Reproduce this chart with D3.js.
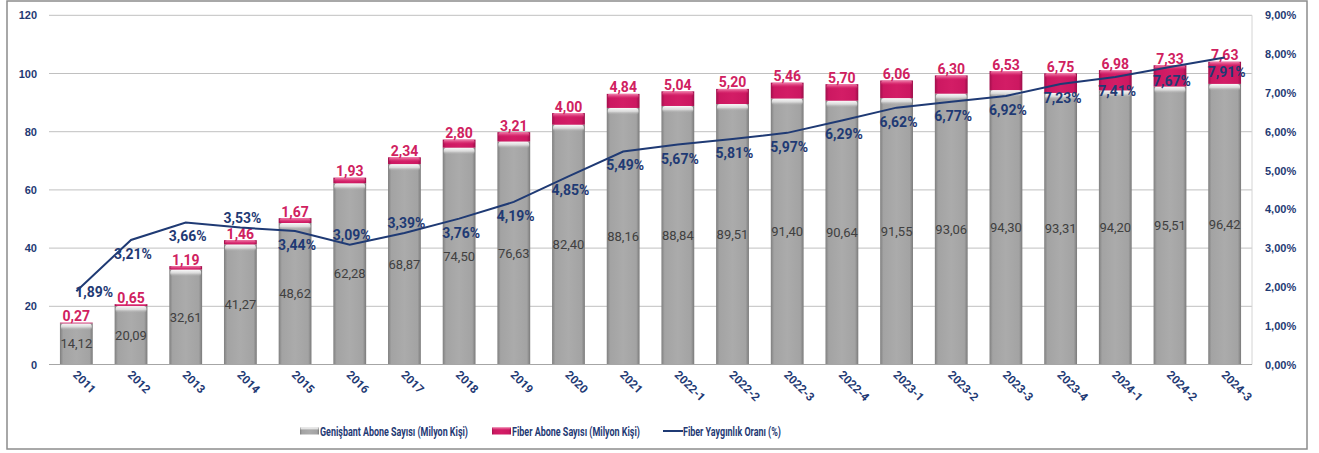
<!DOCTYPE html>
<html>
<head>
<meta charset="utf-8">
<script src="https://cdn.jsdelivr.net/npm/d3@7"></script>
<style>
  html, body { margin: 0; padding: 0; background: #fff; }
  svg { display: block; font-family: Roboto, "Liberation Sans", sans-serif; }
</style>
</head>
<body>
<svg id="chart" width="1319" height="453"></svg>
<script>
// chart data
var categories = ["2011", "2012", "2013", "2014", "2015", "2016", "2017", "2018", "2019", "2020", "2021",
  "2022-1", "2022-2", "2022-3", "2022-4", "2023-1", "2023-2", "2023-3", "2023-4", "2024-1", "2024-2", "2024-3"];
var broadband = [14.12, 20.09, 32.61, 41.27, 48.62, 62.28, 68.87, 74.50, 76.63, 82.40, 88.16,
  88.84, 89.51, 91.40, 90.64, 91.55, 93.06, 94.30, 93.31, 94.20, 95.51, 96.42];
var fiber = [0.27, 0.65, 1.19, 1.46, 1.67, 1.93, 2.34, 2.80, 3.21, 4.00, 4.84,
  5.04, 5.20, 5.46, 5.70, 6.06, 6.30, 6.53, 6.75, 6.98, 7.33, 7.63];
var fiberRate = [1.89, 3.21, 3.66, 3.53, 3.44, 3.09, 3.39, 3.76, 4.19, 4.85, 5.49,
  5.67, 5.81, 5.97, 6.29, 6.62, 6.77, 6.92, 7.23, 7.41, 7.67, 7.91];
var leftTicks = [0, 20, 40, 60, 80, 100, 120];
var rightTicks = [0, 1, 2, 3, 4, 5, 6, 7, 8, 9];
var legendLabels = ["Genişbant Abone Sayısı (Milyon Kişi)", "Fiber Abone Sayısı (Milyon Kişi)", "Fiber Yaygınlık Oranı (%)"];

// where the % labels sit relative to the line point (default below)
var rateLabelPlacement = { "2011": "right", "2014": "above", "2016": "above", "2017": "above" };

var navy = "#1f3a74";
var pink = "#d0215f";
var fmt = function (v) { return v.toFixed(2).replace(".", ","); };

var svg = d3.select("#chart");
var plot = { left: 49, right: 1252, top: 15.3, bottom: 364.5 };

var x = d3.scaleBand().domain(categories).range([plot.left, plot.right]).paddingInner(0.4).paddingOuter(0.2);
var y = d3.scaleLinear().domain([0, 120]).range([plot.bottom, plot.top]);
var y2 = d3.scaleLinear().domain([0, 9]).range([plot.bottom, plot.top]);

// gradients for the bevelled bars
var defs = svg.append("defs");
function sideGrad(id, stops) {
  var g = defs.append("linearGradient").attr("id", id).attr("x1", 0).attr("x2", 1).attr("y1", 0).attr("y2", 0);
  stops.forEach(function (s) { g.append("stop").attr("offset", s[0]).attr("stop-color", s[1]); });
}
function topGrad(id, stops) {
  var g = defs.append("linearGradient").attr("id", id).attr("x1", 0).attr("x2", 0).attr("y1", 0).attr("y2", 1);
  stops.forEach(function (s) { g.append("stop").attr("offset", s[0]).attr("stop-color", s[1]).attr("stop-opacity", s[2]); });
}
sideGrad("grayBar", [[0, "#7f7f7f"], [0.1, "#a3a3a3"], [0.5, "#ababab"], [0.9, "#a3a3a3"], [1, "#7a7a7a"]]);
sideGrad("pinkBar", [[0, "#a10f4c"], [0.1, "#cc1861"], [0.5, "#d31d66"], [0.9, "#cc1861"], [1, "#9a0e48"]]);
topGrad("grayTop", [[0, "#ffffff", 0.95], [0.5, "#f0f0f0", 0.7], [1, "#ababab", 0]]);
topGrad("pinkTop", [[0, "#f38db5", 0.95], [0.5, "#e5508a", 0.6], [1, "#d31d66", 0]]);

// outer frame
svg.append("rect").attr("x", 7).attr("y", 1).attr("width", 1300).attr("height", 448)
  .attr("fill", "none").attr("stroke", "#8c8c8c").attr("stroke-width", 1.5);

// gridlines
svg.append("g").selectAll("line").data(leftTicks.slice(1)).join("line")
  .attr("x1", plot.left).attr("x2", plot.right)
  .attr("y1", function (d) { return y(d); }).attr("y2", function (d) { return y(d); })
  .attr("stroke", "#c0c0c0").attr("stroke-width", 1);
svg.append("line").attr("x1", plot.right).attr("x2", plot.right).attr("y1", plot.top).attr("y2", plot.bottom)
  .attr("stroke", "#d4d4d4");

// left axis
var leftAxis = svg.append("g").attr("transform", "translate(" + (plot.left - 12) + ",0)")
  .call(d3.axisLeft(y).tickValues(leftTicks).tickSize(0).tickPadding(0));
leftAxis.select(".domain").remove();
leftAxis.selectAll("text").attr("fill", navy).attr("font-size", 11).attr("font-weight", "bold");

// right axis
var rightAxis = svg.append("g").attr("transform", "translate(" + (plot.right + 13) + ",0)")
  .call(d3.axisRight(y2).tickValues(rightTicks).tickSize(0).tickPadding(0)
    .tickFormat(function (d) { return fmt(d) + "%"; }));
rightAxis.select(".domain").remove();
rightAxis.selectAll("text").attr("fill", navy).attr("font-size", 11).attr("font-weight", "bold");

// bars
var bw = x.bandwidth();
var bars = svg.append("g").selectAll("g").data(categories).join("g")
  .attr("transform", function (d) { return "translate(" + x(d) + ",0)"; });

bars.append("rect")
  .attr("y", function (d, i) { return y(broadband[i]); })
  .attr("width", bw)
  .attr("height", function (d, i) { return y(0) - y(broadband[i]); })
  .attr("fill", "url(#grayBar)");
bars.append("rect")
  .attr("x", 1).attr("y", function (d, i) { return y(broadband[i]); })
  .attr("width", bw - 2).attr("height", 7).attr("rx", 3)
  .attr("fill", "url(#grayTop)");
bars.append("rect")
  .attr("y", function (d, i) { return y(broadband[i] + fiber[i]); })
  .attr("width", bw)
  .attr("height", function (d, i) { return y(broadband[i]) - y(broadband[i] + fiber[i]); })
  .attr("fill", "url(#pinkBar)");
bars.append("rect")
  .attr("x", 1).attr("y", function (d, i) { return y(broadband[i] + fiber[i]); })
  .attr("width", bw - 2)
  .attr("height", function (d, i) { return Math.min(5, y(broadband[i]) - y(broadband[i] + fiber[i])); })
  .attr("rx", 2)
  .attr("fill", "url(#pinkTop)");

// baseline
svg.append("line").attr("x1", plot.left).attr("x2", plot.right).attr("y1", y(0)).attr("y2", y(0))
  .attr("stroke", "#a6a6a6").attr("stroke-width", 1.2);

// x labels, rotated
svg.append("g").selectAll("text").data(categories).join("text")
  .attr("transform", function (d) { return "translate(" + (x(d) + bw / 2 - 4) + "," + (plot.bottom + 11) + ") rotate(45)"; })
  .attr("fill", navy).attr("font-size", 11.5).attr("font-weight", "bold")
  .text(function (d) { return d; });

// broadband values inside the grey bars
bars.append("text")
  .attr("x", bw / 2)
  .attr("y", function (d, i) { return y(broadband[i] / 2) + 4.5; })
  .attr("text-anchor", "middle").attr("font-size", 13).attr("fill", "#404040")
  .text(function (d, i) { return fmt(broadband[i]); });

// fiber values on top
bars.append("text")
  .attr("x", bw / 2)
  .attr("y", function (d, i) { return y(broadband[i] + fiber[i]) - 1.5; })
  .attr("text-anchor", "middle").attr("font-size", 14).attr("font-weight", "bold").attr("fill", pink)
  .text(function (d, i) { return fmt(fiber[i]); });

// fiber rate line
var cx = function (d) { return x(d) + bw / 2; };
var line = d3.line()
  .x(function (d, i) { return cx(categories[i]); })
  .y(function (d) { return y2(d); });
svg.append("path").datum(fiberRate).attr("d", line)
  .attr("fill", "none").attr("stroke", navy).attr("stroke-width", 2);

svg.append("g").selectAll("text").data(categories).join("text")
  .attr("x", function (d) { return rateLabelPlacement[d] === "right" ? cx(d) - 1 : cx(d) + 2; })
  .attr("y", function (d, i) {
    var p = rateLabelPlacement[d] || "below";
    var py = y2(fiberRate[i]);
    if (p === "above") return py - 4.5;
    if (p === "right") return py + 6;
    return py + 19;
  })
  .attr("text-anchor", function (d) { return rateLabelPlacement[d] === "right" ? "start" : "middle"; })
  .attr("font-size", 14).attr("font-weight", "bold").attr("fill", navy)
  .text(function (d, i) { return fmt(fiberRate[i]) + "%"; });

// legend
var legend = svg.append("g").attr("transform", "translate(0,431)");
var legendX = [300, 492, 663];
var legendW = [148, 128, 98];
legendLabels.forEach(function (lab, i) {
  var g = legend.append("g").attr("transform", "translate(" + legendX[i] + ",0)");
  if (i < 2) {
    g.append("rect").attr("x", 0).attr("y", -3.5).attr("width", 19).attr("height", 7)
      .attr("fill", i === 0 ? "url(#grayBar)" : "url(#pinkBar)");
    g.append("rect").attr("x", 0.5).attr("y", -3.5).attr("width", 18).attr("height", 3)
      .attr("fill", i === 0 ? "url(#grayTop)" : "url(#pinkTop)");
  } else {
    g.append("line").attr("x1", 0).attr("x2", 20).attr("y1", 0).attr("y2", 0)
      .attr("stroke", navy).attr("stroke-width", 2);
  }
  g.append("text").attr("x", 20).attr("y", 4.5)
    .attr("font-size", 12.5).attr("font-weight", "bold").attr("fill", navy)
    .attr("textLength", legendW[i]).attr("lengthAdjust", "spacingAndGlyphs")
    .text(lab);
});
</script>
</body>
</html>
